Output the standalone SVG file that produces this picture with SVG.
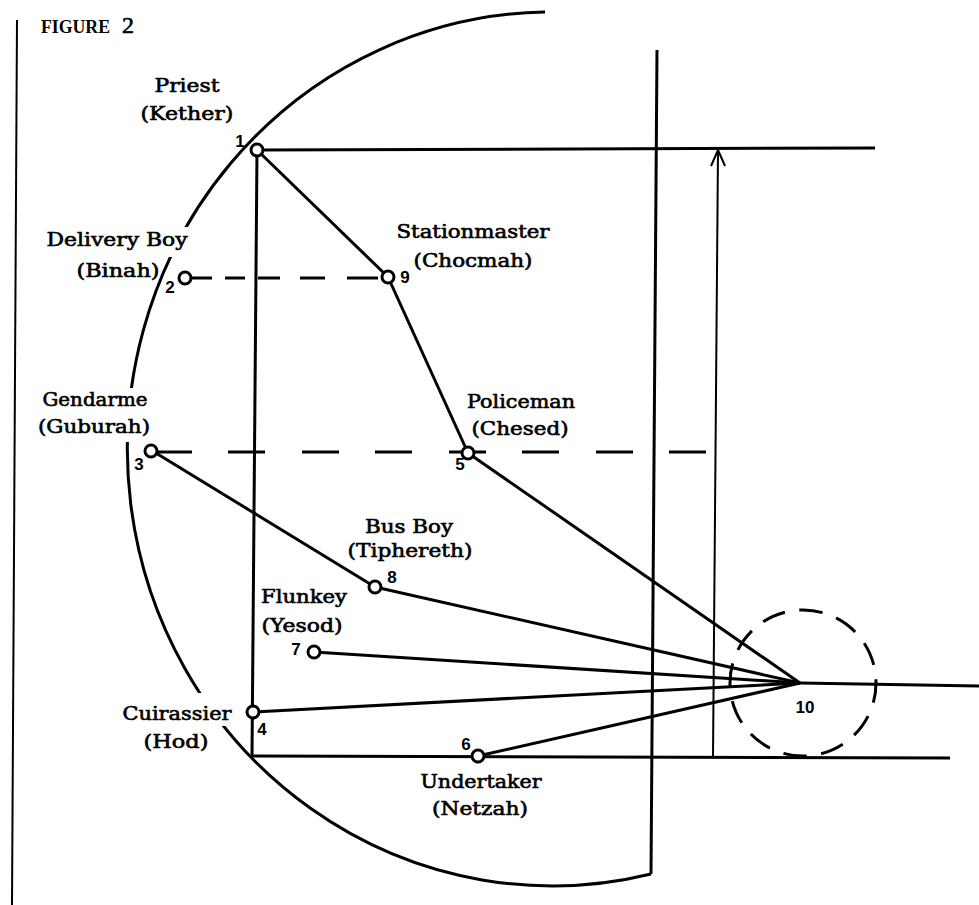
<svg xmlns="http://www.w3.org/2000/svg" width="979" height="905" viewBox="0 0 979 905">
<style>
.ln{fill:none;stroke:#000;stroke-width:3;stroke-linecap:butt}
.thin{fill:none;stroke:#000;stroke-width:2}
.nd{fill:#fff;stroke:#000;stroke-width:3}
.lbl{font-family:"DejaVu Serif","Liberation Serif",serif;font-size:18px;fill:#000;stroke:#000;stroke-width:0.6;text-anchor:middle}
.num{font-family:"Liberation Sans",Arial,sans-serif;font-weight:bold;font-size:17px;fill:#000;text-anchor:middle}
</style>
<defs>
<mask id="arcgaps" maskUnits="userSpaceOnUse" x="0" y="0" width="979" height="905">
<rect width="979" height="905" fill="#fff"/>
<rect x="160" y="227" width="40" height="30" fill="#000"/>
<rect x="105" y="388" width="45" height="54" fill="#000"/>
<rect x="195" y="693" width="42" height="33" fill="#000"/>
</mask>
</defs>
<rect width="979" height="905" fill="#fff"/>
<g id="frame">
<line class="thin" x1="17" y1="20" x2="12" y2="905"/>
<text x="41" y="33" font-family="Liberation Serif,serif" font-weight="bold" font-size="19" textLength="69" lengthAdjust="spacingAndGlyphs">FIGURE</text>
<text x="128" y="33" font-family="Liberation Serif,serif" font-size="24" stroke="#000" stroke-width="0.6" text-anchor="middle">2</text>
<path class="ln" d="M545 12 A425 437 0 1 0 651 874" mask="url(#arcgaps)"/>
<line class="ln" x1="657" y1="50" x2="651" y2="874"/>
</g>
<g id="connectors">
<line class="ln" x1="257" y1="150" x2="875" y2="148"/>
<line class="ln" x1="257" y1="150" x2="252" y2="756"/>
<line class="ln" x1="252" y1="756" x2="950" y2="758"/>
<line class="thin" x1="718" y1="150" x2="713" y2="757"/>
<polyline class="thin" points="711,166 718,150 725,166"/>
<line class="ln" x1="800" y1="683" x2="979" y2="686"/>
<line class="ln" x1="257" y1="150" x2="388" y2="277"/>
<line class="ln" x1="388" y1="277" x2="468" y2="453"/>
<line class="ln" x1="468" y1="453" x2="800" y2="683"/>
<line class="ln" x1="151" y1="450" x2="375" y2="587"/>
<line class="ln" x1="375" y1="587" x2="800" y2="683"/>
<line class="ln" x1="314" y1="652" x2="800" y2="683"/>
<line class="ln" x1="253" y1="712" x2="800" y2="683"/>
<line class="ln" x1="478" y1="756" x2="800" y2="683"/>
<path class="ln" d="M185 278 H212 M225 278 H245 M258 278 H280 M300 278 H325 M347 278 H378"/>
<path class="ln" d="M151 452 H192 M228 452 H265 M302 452 H339 M375 452 H412 M449 452 H486 M522 452 H559 M596 452 H633 M669 452 H706"/>
</g>
<g id="node-1"><circle class="nd" cx="257" cy="150" r="6"/><text class="num" x="240" y="147">1</text>
<text class="lbl" x="187" y="92" textLength="65" lengthAdjust="spacingAndGlyphs">Priest</text>
<text class="lbl" x="187" y="120" textLength="93" lengthAdjust="spacingAndGlyphs">(Kether)</text></g>
<g id="node-2"><circle class="nd" cx="185" cy="278" r="6"/><text class="num" x="170" y="293">2</text>
<text class="lbl" x="117" y="246" textLength="141" lengthAdjust="spacingAndGlyphs">Delivery Boy</text>
<text class="lbl" x="118" y="277" textLength="83" lengthAdjust="spacingAndGlyphs">(Binah)</text></g>
<g id="node-3"><circle class="nd" cx="151" cy="451" r="6"/><text class="num" x="139" y="470">3</text>
<text class="lbl" x="95" y="406" textLength="105" lengthAdjust="spacingAndGlyphs">Gendarme</text>
<text class="lbl" x="94" y="433" textLength="112" lengthAdjust="spacingAndGlyphs">(Guburah)</text></g>
<g id="node-4"><circle class="nd" cx="253" cy="712" r="6"/><text class="num" x="262" y="735">4</text>
<text class="lbl" x="177" y="720" textLength="109" lengthAdjust="spacingAndGlyphs">Cuirassier</text>
<text class="lbl" x="176" y="748" textLength="65" lengthAdjust="spacingAndGlyphs">(Hod)</text></g>
<g id="node-5"><circle class="nd" cx="468" cy="453" r="6"/><text class="num" x="460" y="470">5</text>
<text class="lbl" x="521" y="408" textLength="108" lengthAdjust="spacingAndGlyphs">Policeman</text>
<text class="lbl" x="520" y="435" textLength="97" lengthAdjust="spacingAndGlyphs">(Chesed)</text></g>
<g id="node-6"><circle class="nd" cx="478" cy="756" r="6"/><text class="num" x="466" y="750">6</text>
<text class="lbl" x="481" y="788" textLength="121" lengthAdjust="spacingAndGlyphs">Undertaker</text>
<text class="lbl" x="480" y="815" textLength="96" lengthAdjust="spacingAndGlyphs">(Netzah)</text></g>
<g id="node-7"><circle class="nd" cx="314" cy="652" r="6"/><text class="num" x="296" y="655">7</text>
<text class="lbl" x="304" y="603" textLength="86" lengthAdjust="spacingAndGlyphs">Flunkey</text>
<text class="lbl" x="302" y="632" textLength="81" lengthAdjust="spacingAndGlyphs">(Yesod)</text></g>
<g id="node-8"><circle class="nd" cx="375" cy="587" r="6"/><text class="num" x="392" y="583">8</text>
<text class="lbl" x="409" y="533" textLength="88" lengthAdjust="spacingAndGlyphs">Bus Boy</text>
<text class="lbl" x="410" y="557" textLength="125" lengthAdjust="spacingAndGlyphs">(Tiphereth)</text></g>
<g id="node-9"><circle class="nd" cx="388" cy="277" r="6"/><text class="num" x="405" y="283">9</text>
<text class="lbl" x="473" y="238" textLength="153" lengthAdjust="spacingAndGlyphs">Stationmaster</text>
<text class="lbl" x="473" y="267" textLength="119" lengthAdjust="spacingAndGlyphs">(Chocmah)</text></g>
<g id="node-10"><circle cx="803" cy="683" r="73" fill="none" stroke="#000" stroke-width="3" pathLength="120" stroke-dasharray="6.2 3.8" stroke-dashoffset="1"/><text class="num" x="805" y="713">10</text></g>
</svg>
